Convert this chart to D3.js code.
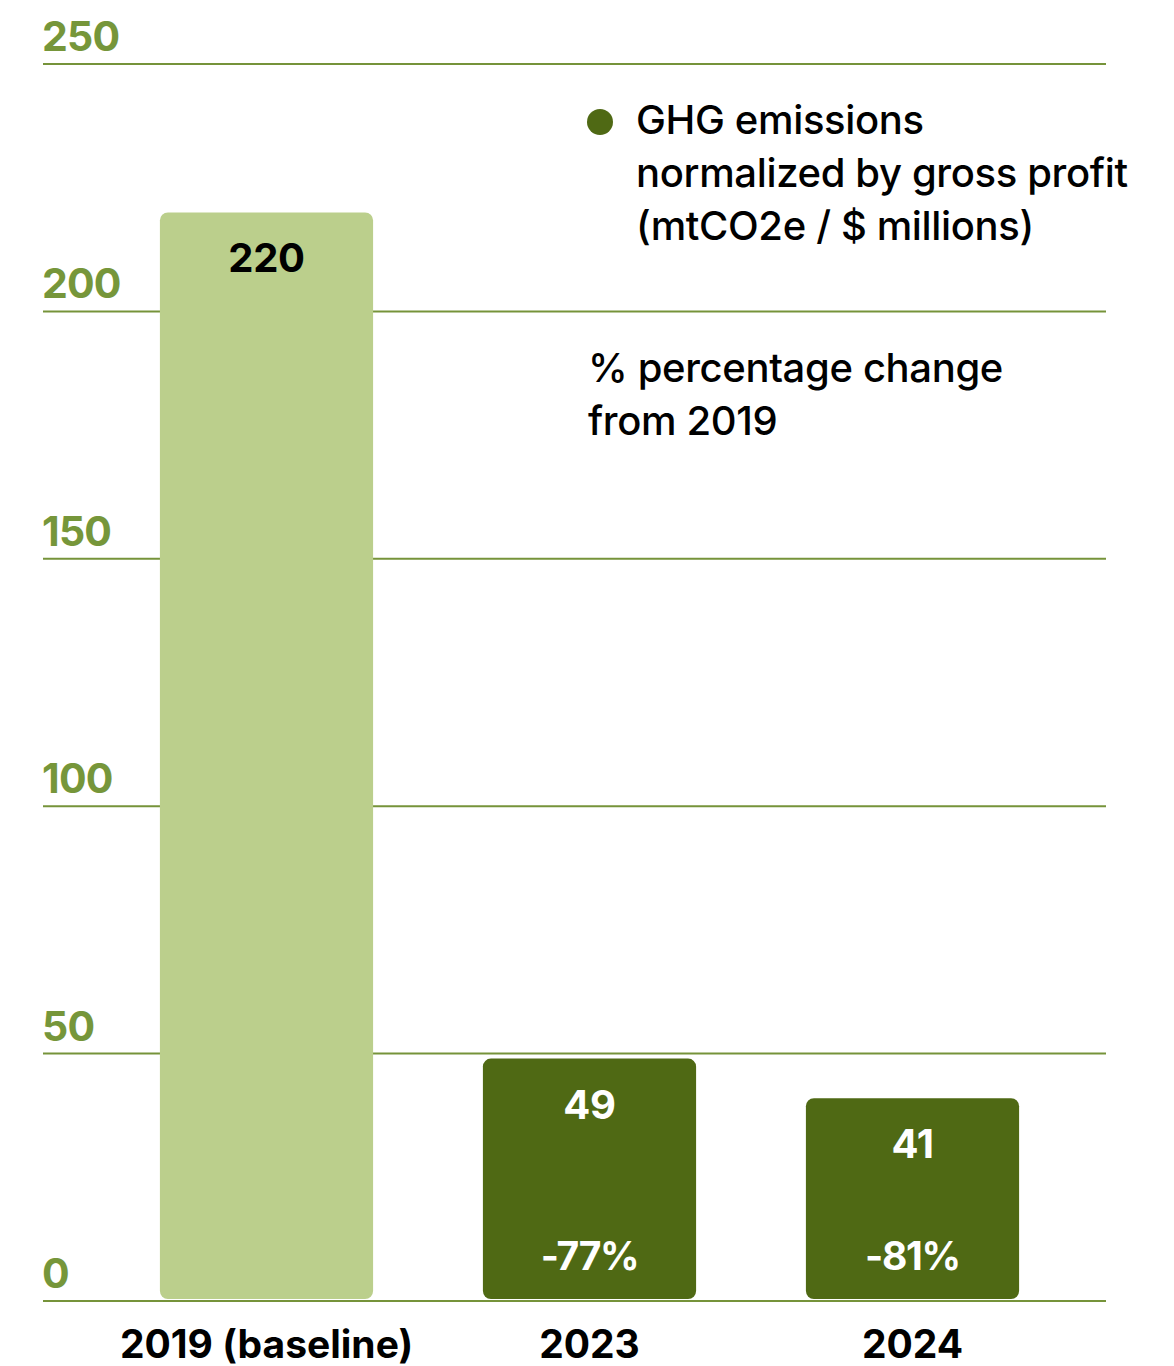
<!DOCTYPE html>
<head>
  <meta charset="utf-8">
  <title>ghg normalized</title>
  <style>
    body { margin: 0; background: #fff; }
    text { font-family: Inter, "Noto Sans", sans-serif; }
  </style>
</head>

<script src="https://cdn.jsdelivr.net/npm/d3@7"></script>

<div id="chart"></div>

<script>

  // data
  const years = ["2019 (baseline)", "2023", "2024"]
  const values = [220, 49, 41]
  const changes = ["", "-77%", "-81%"]
  const tickValues = [0, 50, 100, 150, 200, 250]
  const legendLines = ["GHG emissions", "normalized by gross profit", "(mtCO2e / $ millions)"]
  const noteLines = ["% percentage change", "from 2019"]

  const W = 1174, H = 1366

  const svg = d3.select("#chart")
    .append("svg")
      .attr("width", W)
      .attr("height", H)

  // scales
  const y = d3.scaleLinear()
    .domain([0, 250])
    .range([1301, 64])

  const x = d3.scaleBand()
    .domain(years)
    .range([105, 1074])
    .paddingInner(0.34)
    .paddingOuter(0.17)

  // gridlines + tick labels
  const grid = svg.append("g")
  grid.selectAll("line")
    .data(tickValues)
    .join("line")
      .attr("x1", 43)
      .attr("x2", 1106)
      .attr("y1", d => y(d))
      .attr("y2", d => y(d))
      .attr("stroke", "#76933a")
      .attr("stroke-width", 2)

  grid.selectAll("text")
    .data(tickValues)
    .join("text")
      .attr("x", 42)
      .attr("y", d => y(d) - 13)
      .attr("fill", "#76963a")
      .attr("font-size", 41)
      .attr("font-weight", 700)
      .attr("letter-spacing", -0.8)
      .text(d => d)

  // bars
  const data = years.map((k, i) => ({ year: k, value: values[i], change: changes[i], i }))
  const color = d => d.i === 0 ? "#bbcf8c" : "#4f6914"

  svg.append("g")
    .selectAll("rect")
    .data(data)
    .join("rect")
      .attr("x", d => x(d.year))
      .attr("y", d => y(d.value))
      .attr("width", x.bandwidth())
      .attr("height", d => y(0) - 2 - y(d.value))
      .attr("rx", 8)
      .attr("fill", color)

  // value labels
  svg.append("g")
    .selectAll("text")
    .data(data)
    .join("text")
      .attr("x", d => x(d.year) + x.bandwidth() / 2)
      .attr("y", d => y(d.value) + 60)
      .attr("text-anchor", "middle")
      .attr("font-size", 40)
      .attr("font-weight", 700)
      .attr("letter-spacing", -0.3)
      .attr("fill", d => d.i === 0 ? "#000" : "#fff")
      .text(d => d.value)

  // percentage change labels
  svg.append("g")
    .selectAll("text")
    .data(data.filter(d => d.change))
    .join("text")
      .attr("x", d => x(d.year) + x.bandwidth() / 2)
      .attr("y", y(0) - 31)
      .attr("text-anchor", "middle")
      .attr("font-size", 39)
      .attr("font-weight", 700)
      .attr("letter-spacing", -1.3)
      .attr("fill", "#fff")
      .text(d => d.change)

  // category labels
  svg.append("g")
    .selectAll("text")
    .data(years)
    .join("text")
      .attr("x", d => x(d) + x.bandwidth() / 2)
      .attr("y", 1358)
      .attr("text-anchor", "middle")
      .attr("font-size", 39)
      .attr("font-weight", 700)
      .attr("letter-spacing", 0)
      .attr("fill", "#000")
      .text(d => d)

  // legend
  svg.append("circle")
    .attr("cx", 600)
    .attr("cy", 122)
    .attr("r", 13)
    .attr("fill", "#4f6914")

  svg.append("g")
    .selectAll("text")
    .data(legendLines)
    .join("text")
      .attr("x", 636)
      .attr("y", (d, i) => 134 + i * 53)
      .attr("font-size", 40)
      .attr("font-weight", 500)
      .attr("letter-spacing", -0.35)
      .attr("fill", "#000")
      .text(d => d)

  svg.append("g")
    .selectAll("text")
    .data(noteLines)
    .join("text")
      .attr("x", 588)
      .attr("y", (d, i) => 382 + i * 53)
      .attr("font-size", 40)
      .attr("font-weight", 500)
      .attr("letter-spacing", -0.35)
      .attr("fill", "#000")
      .text(d => d)

</script>
